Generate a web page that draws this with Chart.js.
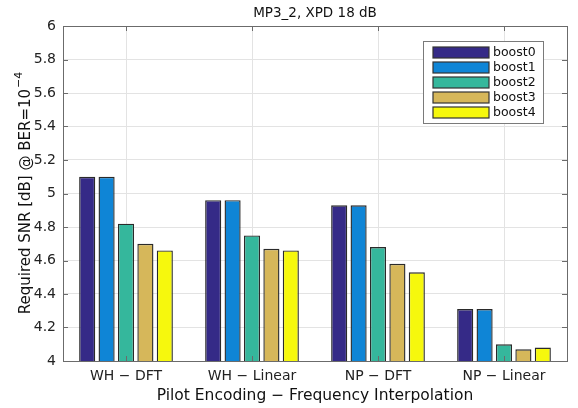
<!DOCTYPE html>
<html>
<head>
<meta charset="utf-8">
<script src="https://cdn.jsdelivr.net/npm/chart.js@4/dist/chart.umd.min.js"></script>
<style>
  html, body { margin: 0; padding: 0; background: #fff; }
</style>
</head>
<body>
<canvas id="chart" width="578" height="408"></canvas>
<script>
// values
const categories = ["WH − DFT", "WH − Linear", "NP − DFT", "NP − Linear"];
const seriesNames = ["boost0", "boost1", "boost2", "boost3", "boost4"];
const boost0 = [5.10, 4.96, 4.93, 4.31];
const boost1 = [5.10, 4.96, 4.93, 4.31];
const boost2 = [4.82, 4.75, 4.68, 4.10];
const boost3 = [4.70, 4.67, 4.58, 4.07];
const boost4 = [4.66, 4.66, 4.53, 4.08];
const yMin = 4, yMax = 6, yStep = 0.2;
const colors = ["#352a87", "#0f85d6", "#35b79c", "#d6b75a", "#f6f80d"];

const FONT = "'DejaVu Sans', sans-serif";
const seriesData = [boost0, boost1, boost2, boost3, boost4];

const datasets = seriesNames.map((name, i) => ({
    label: name,
    data: seriesData[i],
    backgroundColor: colors[i],
    borderColor: "#2a2a2a",
    borderWidth: 1.4,
    categoryPercentage: 0.77,
    barPercentage: 0.83
}));

// title, y label with superscript, frame with inward ticks, legend in the corner
const decor = {
    id: "decor",
    afterDatasetsDraw(chart) {
        const ctx = chart.ctx;
        const a = chart.chartArea;
        const ys = chart.scales.y, xs = chart.scales.x;
        ctx.save();
        ctx.strokeStyle = "#6b6b6b";
        ctx.lineWidth = 1;
        ctx.beginPath();
        ys.ticks.forEach(t => {
            const py = Math.round(ys.getPixelForValue(t.value)) + 0.5;
            ctx.moveTo(a.left, py); ctx.lineTo(a.left + 5, py);
            ctx.moveTo(a.right, py); ctx.lineTo(a.right - 5, py);
        });
        categories.forEach((c, i) => {
            const px = Math.round(xs.getPixelForValue(i)) + 0.5;
            ctx.moveTo(px, a.top); ctx.lineTo(px, a.top + 5);
            ctx.moveTo(px, a.bottom); ctx.lineTo(px, a.bottom - 5);
        });
        ctx.stroke();
        ctx.strokeRect(Math.round(a.left) + 0.5, Math.round(a.top) + 0.5,
                       Math.round(a.right - a.left), Math.round(a.bottom - a.top));

        // legend
        const lx = 423, ly = 41, lw = 120, lh = 82;
        ctx.fillStyle = "#fff";
        ctx.fillRect(lx, ly, lw, lh);
        ctx.strokeStyle = "#7a7a7a";
        ctx.strokeRect(lx + 0.5, ly + 0.5, lw, lh);
        ctx.font = "12.5px " + FONT;
        ctx.textBaseline = "middle";
        ctx.textAlign = "left";
        chart.data.datasets.forEach((ds, i) => {
            const cy = 52 + i * 15;
            ctx.fillStyle = ds.backgroundColor;
            ctx.fillRect(433, cy - 5, 56, 11);
            ctx.strokeStyle = "#333";
            ctx.lineWidth = 1.2;
            ctx.strokeRect(433, cy - 5, 56, 11);
            ctx.fillStyle = "#111";
            ctx.fillText(ds.label, 493, cy + 1);
        });

        // title
        ctx.fillStyle = "#111";
        ctx.font = "13.5px " + FONT;
        ctx.textAlign = "center";
        ctx.fillText("MP3_2, XPD 18 dB", (a.left + a.right) / 2, 13);

        // y axis title
        const main = "Required SNR [dB] @ BER=10";
        const sup = "−4";
        ctx.font = "15px " + FONT;
        const wMain = ctx.measureText(main).width;
        ctx.font = "11px " + FONT;
        const wSup = ctx.measureText(sup).width;
        const total = wMain + wSup;
        ctx.translate(26, (a.top + a.bottom) / 2);
        ctx.rotate(-Math.PI / 2);
        ctx.textAlign = "left";
        ctx.font = "15px " + FONT;
        ctx.fillStyle = "#111";
        ctx.fillText(main, -total / 2, 0);
        ctx.font = "11px " + FONT;
        ctx.fillText(sup, -total / 2 + wMain + 1, -7);
        ctx.restore();
    }
};

new Chart(document.getElementById("chart"), {
    type: "bar",
    data: { labels: categories, datasets: datasets },
    options: {
        responsive: false,
        animation: false,
        layout: { padding: { top: 26, right: 11, left: 0, bottom: 0 } },
        plugins: { legend: { display: false }, title: { display: false }, tooltip: { enabled: false } },
        scales: {
            x: {
                grid: { color: "#e3e3e3", offset: false, drawTicks: false },
                border: { display: false },
                ticks: { color: "#222", font: { size: 14, family: FONT }, padding: 7 },
                title: {
                    display: true,
                    text: "Pilot Encoding − Frequency Interpolation",
                    color: "#111",
                    font: { size: 15.5, family: FONT },
                    padding: { top: 0, bottom: 3 }
                },
                afterFit(s) { s.height = 47; }
            },
            y: {
                min: yMin, max: yMax,
                grid: { color: "#e3e3e3", drawTicks: false },
                border: { display: false },
                ticks: {
                    stepSize: yStep,
                    color: "#222",
                    font: { size: 14, family: FONT },
                    padding: 7,
                    callback: v => String(Number(v.toFixed(1)))
                },
                afterFit(s) { s.width = 63; }
            }
        }
    },
    plugins: [decor]
});
</script>
</body>
</html>
